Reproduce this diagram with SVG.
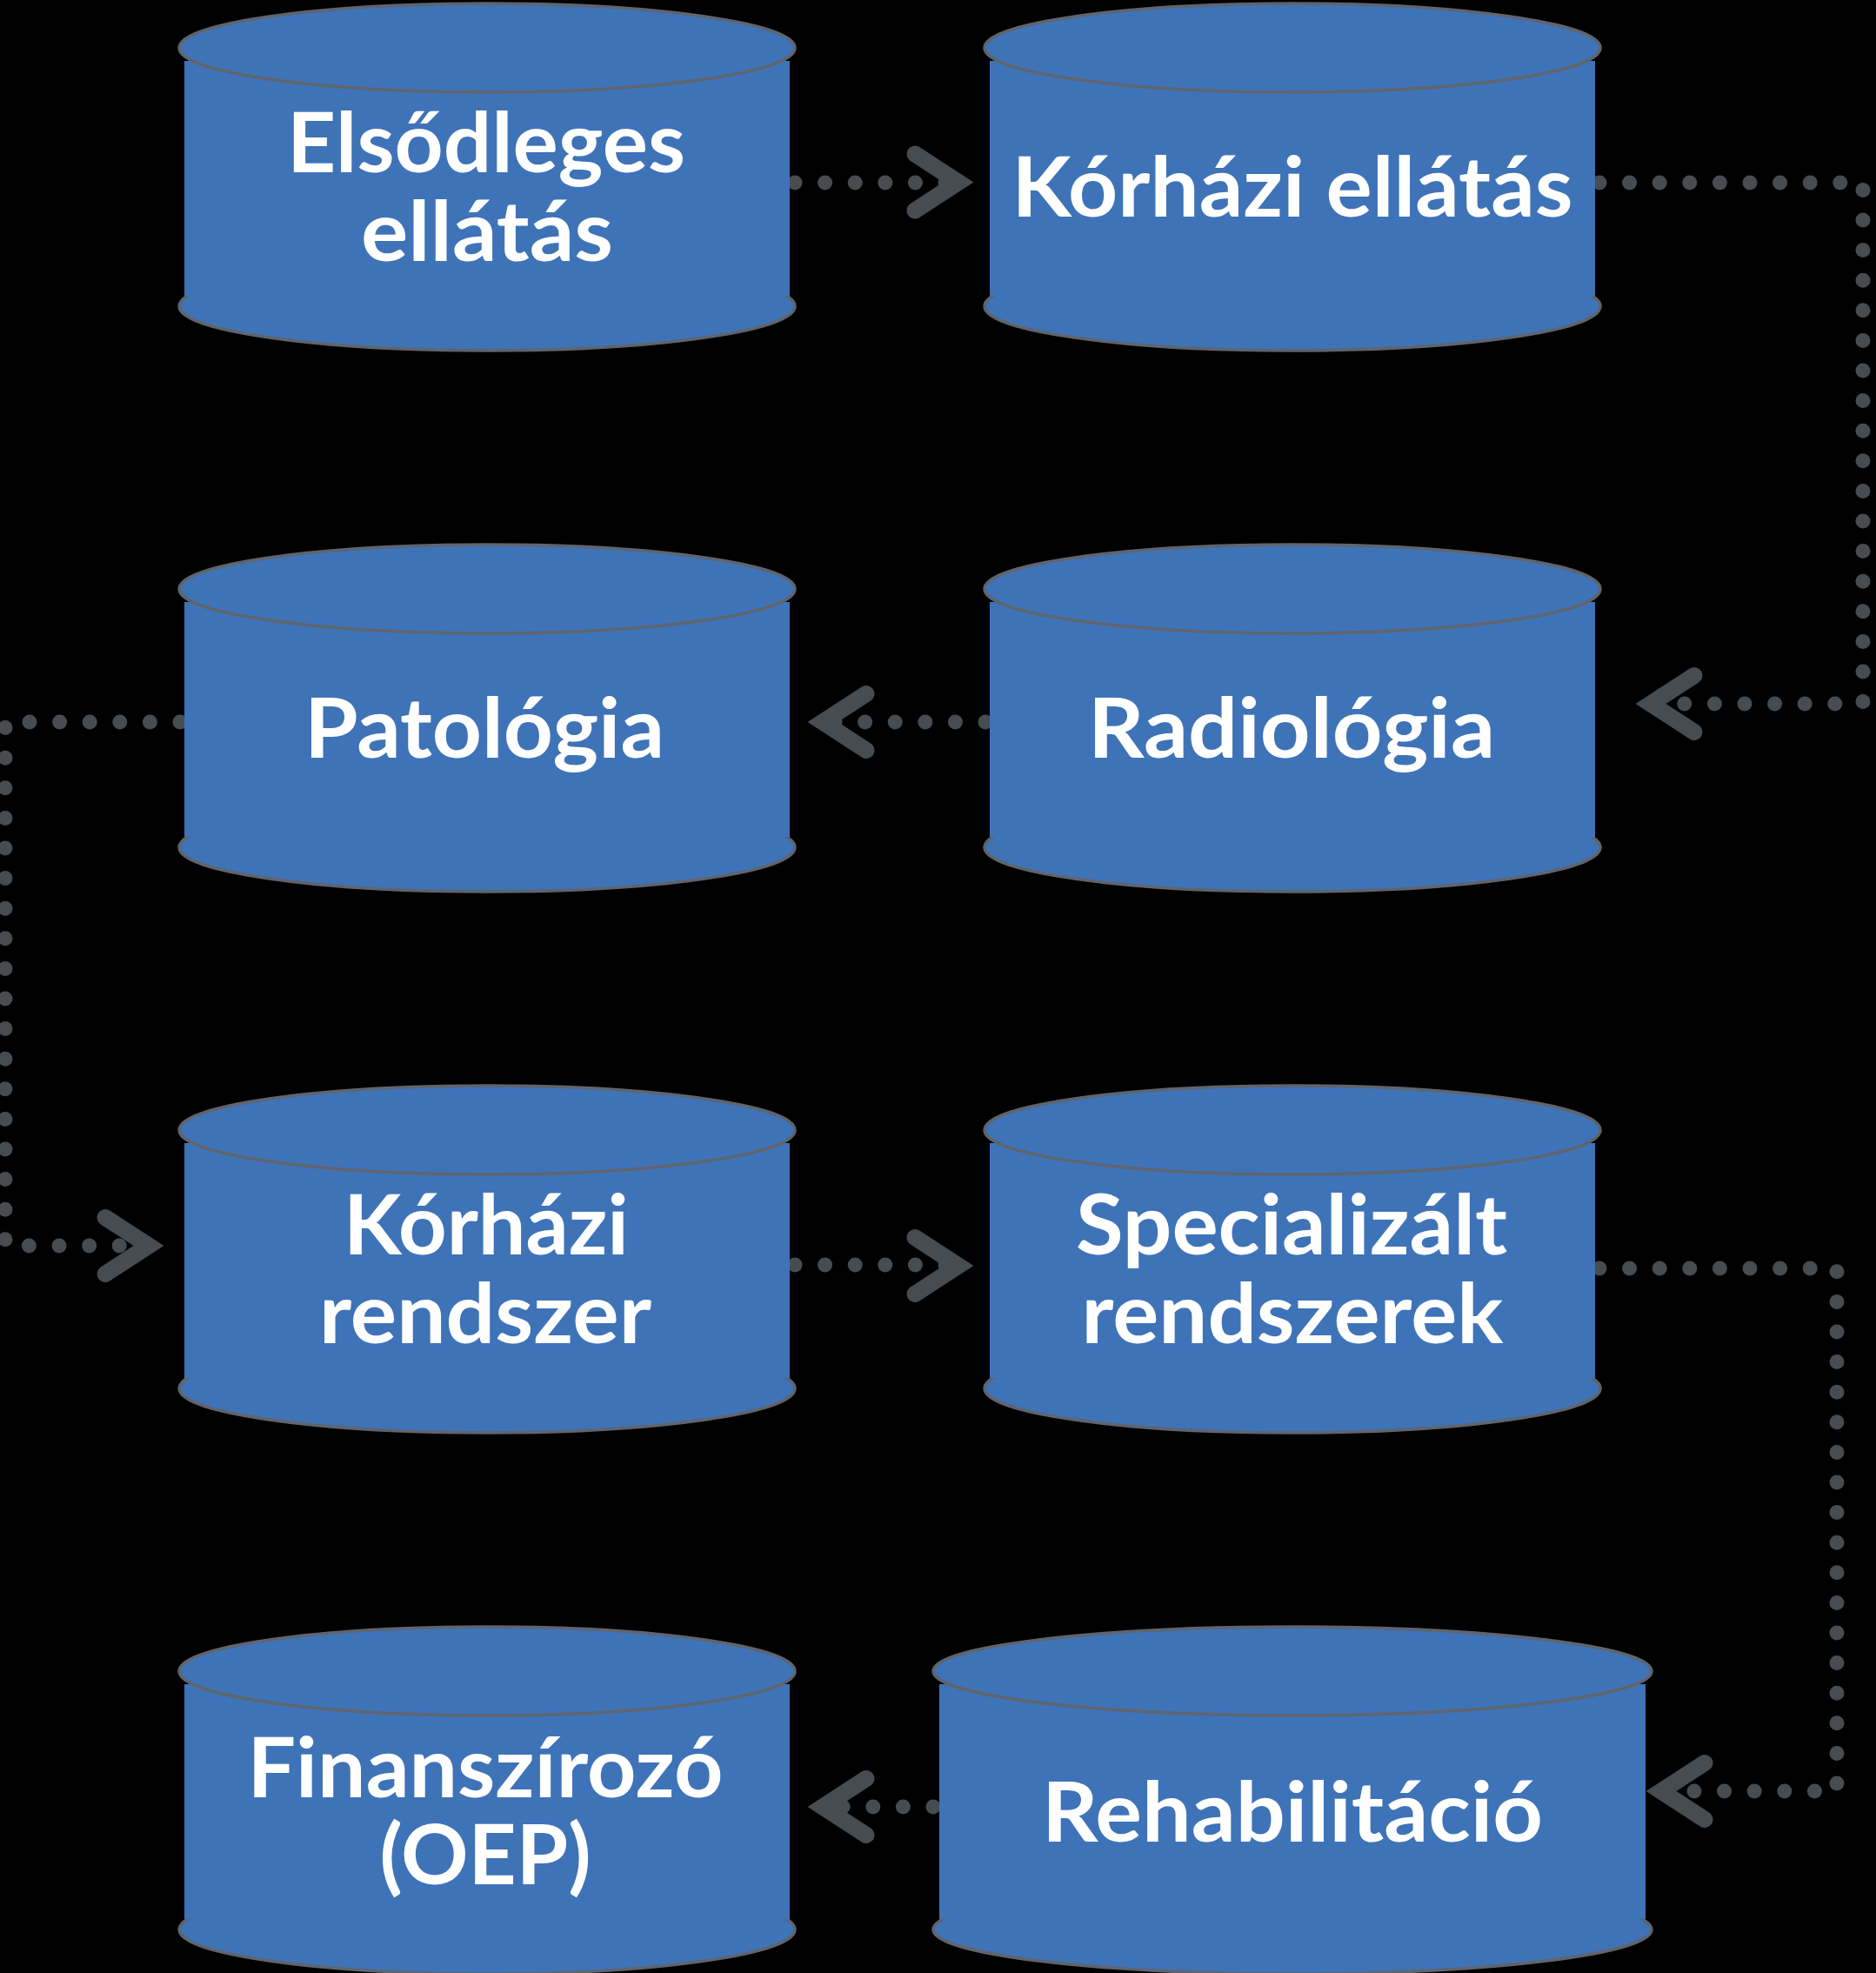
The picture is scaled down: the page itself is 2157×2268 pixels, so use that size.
<svg xmlns="http://www.w3.org/2000/svg" width="2157" height="2268" viewBox="0 0 2157 2268">
<style>
.bg{fill:#000}
.cyl{fill:#3E73B8;stroke:#5F646C;stroke-width:3.5}
.body{fill:#3E73B8;stroke:none}
.lbl{font-family:Lato,"Liberation Sans",sans-serif;font-weight:700;font-size:95px;fill:#fff;text-anchor:middle}
.dots{fill:none;stroke:#474C51;stroke-width:17;stroke-linecap:round;stroke-dasharray:0 34.6}
.chev{fill:none;stroke:#474C51;stroke-width:19;stroke-linecap:round;stroke-linejoin:miter;stroke-miterlimit:6}
</style>
<rect class="bg" x="0" y="0" width="2157" height="2268"/>
<g id="connectors">
  <path class="dots" d="M914 210 H1088"/>
  <path class="chev" d="M1052 177 L1102 209.5 L1052 242"/>
  <path class="dots" d="M1839 210 H2142 V809 H1905"/>
  <path class="chev" d="M1948 776.5 L1898 809 L1948 841.5"/>
  <path class="dots" d="M1133 830 H950"/>
  <path class="chev" d="M996 797.5 L946 830 L996 862.5"/>
  <path class="dots" d="M207 830 H6 V1432 H168"/>
  <path class="chev" d="M121 1399.5 L171 1432 L121 1464.5"/>
  <path class="dots" d="M914 1454 H1088"/>
  <path class="chev" d="M1052 1422.5 L1102 1455 L1052 1487.5"/>
  <path class="dots" d="M1839 1458 H2112 V2059 H1915"/>
  <path class="chev" d="M1960 2026.5 L1910 2059 L1960 2091.5"/>
  <path class="dots" d="M1073 2077 H950"/>
  <path class="chev" d="M996 2044.5 L946 2077 L996 2109.5"/>
</g>
<g id="elsodleges">
  <ellipse class="cyl" cx="560" cy="352" rx="354" ry="51"/>
  <rect class="body" x="212" y="70" width="696" height="270"/>
  <ellipse class="cyl" cx="560" cy="55" rx="354" ry="51"/>
  <text class="lbl" x="559" y="198" textLength="458" lengthAdjust="spacingAndGlyphs">Elsődleges</text>
  <text class="lbl" x="560" y="300" textLength="290" lengthAdjust="spacingAndGlyphs">ellátás</text>
</g>
<g id="korhazi-ellatas">
  <ellipse class="cyl" cx="1486" cy="352" rx="354" ry="51"/>
  <rect class="body" x="1138" y="70" width="696" height="270"/>
  <ellipse class="cyl" cx="1486" cy="55" rx="354" ry="51"/>
  <text class="lbl" x="1486" y="249" textLength="645" lengthAdjust="spacingAndGlyphs">Kórházi ellátás</text>
</g>
<g id="patologia">
  <ellipse class="cyl" cx="560" cy="974" rx="354" ry="51"/>
  <rect class="body" x="212" y="692" width="696" height="270"/>
  <ellipse class="cyl" cx="560" cy="677" rx="354" ry="51"/>
  <text class="lbl" x="557" y="871" textLength="414" lengthAdjust="spacingAndGlyphs">Patológia</text>
</g>
<g id="radiologia">
  <ellipse class="cyl" cx="1486" cy="974" rx="354" ry="51"/>
  <rect class="body" x="1138" y="692" width="696" height="270"/>
  <ellipse class="cyl" cx="1486" cy="677" rx="354" ry="51"/>
  <text class="lbl" x="1485" y="871" textLength="468" lengthAdjust="spacingAndGlyphs">Radiológia</text>
</g>
<g id="korhazi-rendszer">
  <ellipse class="cyl" cx="560" cy="1596" rx="354" ry="51"/>
  <rect class="body" x="212" y="1314" width="696" height="270"/>
  <ellipse class="cyl" cx="560" cy="1299" rx="354" ry="51"/>
  <text class="lbl" x="559" y="1442" textLength="328" lengthAdjust="spacingAndGlyphs">Kórházi</text>
  <text class="lbl" x="558" y="1544" textLength="382" lengthAdjust="spacingAndGlyphs">rendszer</text>
</g>
<g id="specializalt">
  <ellipse class="cyl" cx="1486" cy="1596" rx="354" ry="51"/>
  <rect class="body" x="1138" y="1314" width="696" height="270"/>
  <ellipse class="cyl" cx="1486" cy="1299" rx="354" ry="51"/>
  <text class="lbl" x="1485" y="1442" textLength="496" lengthAdjust="spacingAndGlyphs">Specializált</text>
  <text class="lbl" x="1486" y="1544" textLength="485" lengthAdjust="spacingAndGlyphs">rendszerek</text>
</g>
<g id="finanszirozo">
  <ellipse class="cyl" cx="560" cy="2218" rx="354" ry="51"/>
  <rect class="body" x="212" y="1936" width="696" height="270"/>
  <ellipse class="cyl" cx="560" cy="1921" rx="354" ry="51"/>
  <text class="lbl" x="558" y="2066" textLength="547" lengthAdjust="spacingAndGlyphs">Finanszírozó</text>
  <text class="lbl" x="558" y="2166" textLength="243" lengthAdjust="spacingAndGlyphs">(OEP)</text>
</g>
<g id="rehabilitacio">
  <ellipse class="cyl" cx="1486" cy="2218" rx="413" ry="51"/>
  <rect class="body" x="1080" y="1936" width="812" height="270"/>
  <ellipse class="cyl" cx="1486" cy="1921" rx="413" ry="51"/>
  <text class="lbl" x="1486" y="2117" textLength="576" lengthAdjust="spacingAndGlyphs">Rehabilitáció</text>
</g>
</svg>
